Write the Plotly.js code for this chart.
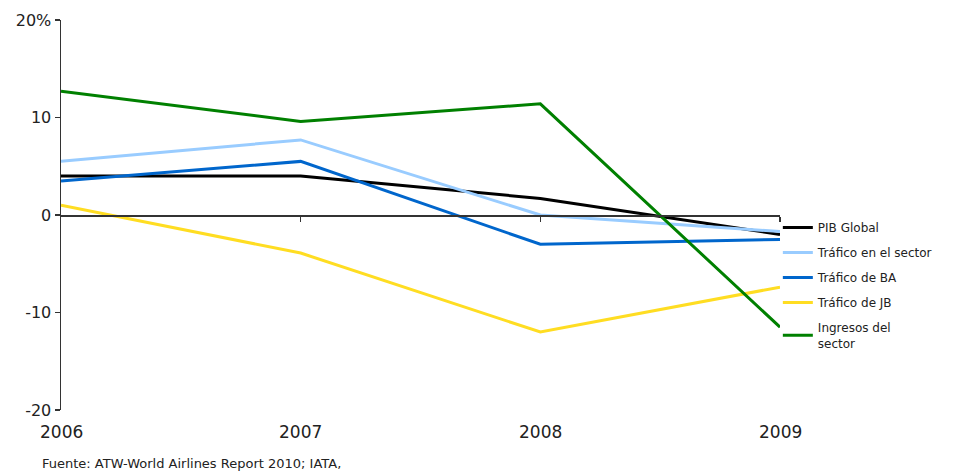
<!DOCTYPE html>
<html>
<head>
<meta charset="utf-8">
<script src="https://cdn.plot.ly/plotly-3.0.1.min.js"></script>
<style>html,body{margin:0;padding:0;background:#fff}#chart{width:958px;height:473px}</style>
</head>
<body>
<div id="chart"></div>
<script>
const years = [2006, 2007, 2008, 2009];
const seriesNames = ["PIB Global", "Tráfico en el sector", "Tráfico de BA", "Tráfico de JB", "Ingresos del<br>sector"];
const pibGlobal = [4.0, 4.0, 1.7, -2.0];
const traficoSector = [5.5, 7.7, 0.0, -1.7];
const traficoBA = [3.5, 5.5, -3.0, -2.5];
const traficoJB = [1.0, -3.9, -12.0, -7.4];
const ingresosSector = [12.7, 9.6, 11.4, -11.5];
const colors = ["#000000", "#99ccff", "#0066cc", "#ffdd22", "#008000"];
const yTickVals = [20, 10, 0, -10, -20];
const yTickText = ["20%", "10", "0", "-10", "-20"];
const source = "Fuente: ATW-World Airlines Report 2010; IATA,";

const FONT = "DejaVu Sans, Verdana, sans-serif";
const allSeries = [pibGlobal, traficoSector, traficoBA, traficoJB, ingresosSector];
const traces = allSeries.map((vals, i) => ({
  x: years, y: vals, type: "scatter", mode: "lines",
  name: seriesNames[i], legendgroup: "g" + i,
  line: {color: colors[i], width: 3}
}));

const annotations = years.map(yr => ({
  x: yr, xref: "x", y: -0.056, yref: "paper", text: String(yr),
  showarrow: false, xanchor: "center", yanchor: "middle",
  font: {family: FONT, size: 17, color: "#222"}
}));
annotations.push({
  x: -0.029, xref: "paper", y: -0.136, yref: "paper", text: source,
  showarrow: false, xanchor: "left", yanchor: "middle",
  font: {family: FONT, size: 13, color: "#222"}
});

const layout = {
  width: 958, height: 473,
  margin: {l: 61, r: 178, t: 20, b: 63},
  paper_bgcolor: "#fff", plot_bgcolor: "#fff",
  showlegend: true,
  legend: {
    x: 0.997, xanchor: "left", y: 0.505, yanchor: "top",
    font: {family: FONT, size: 12, color: "#222"},
    tracegroupgap: 6, bgcolor: "rgba(0,0,0,0)"
  },
  xaxis: {
    range: [2006, 2009], anchor: "free", position: 0.5,
    showgrid: false, zeroline: false, showline: true, linecolor: "#333", linewidth: 1.5,
    ticks: "outside", ticklen: 5, tickwidth: 1.5, tickcolor: "#333",
    tickvals: [2007, 2008, 2009], showticklabels: false, fixedrange: true
  },
  yaxis: {
    range: [-20, 20], showgrid: false, zeroline: false,
    showline: true, linecolor: "#333", linewidth: 1.5,
    ticks: "outside", ticklen: 5, tickwidth: 1.5, tickcolor: "#333",
    tickvals: yTickVals, ticktext: yTickText,
    tickfont: {family: FONT, size: 16, color: "#222"}
  },
  annotations: annotations
};

Plotly.newPlot("chart", traces, layout, {displayModeBar: false, staticPlot: true});
</script>
</body>
</html>
